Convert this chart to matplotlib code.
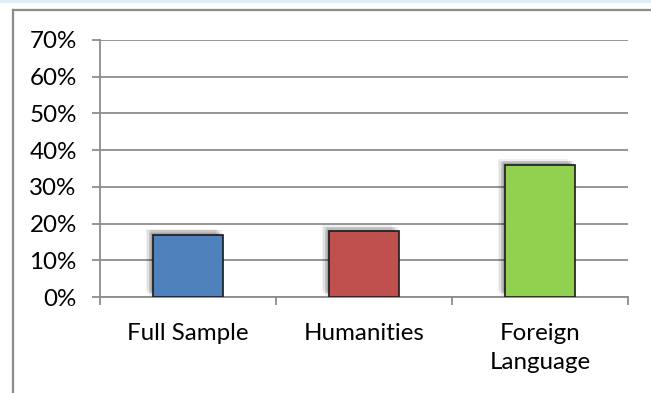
import matplotlib
matplotlib.use("Agg")
import matplotlib.pyplot as plt
import matplotlib.patheffects as pe
from matplotlib.lines import Line2D
from matplotlib.patches import Rectangle

categories = ["Full Sample", "Humanities", "Foreign\nLanguage"]
values = [0.17, 0.18, 0.36]
colors = ["#4F81BD", "#C0504D", "#92D050"]
yticks = [0, 0.1, 0.2, 0.3, 0.4, 0.5, 0.6, 0.7]

plt.rcParams["font.family"] = ["Lato", "DejaVu Sans"]

W, H = 651, 393
fig = plt.figure(figsize=(W / 100, H / 100), dpi=100)
ax = fig.add_axes([100 / W, (H - 297) / H, 528 / W, 257 / H])

grey = "#8C8C8C"

# blurred drop shadow approximated by stacked translucent offsets
shadow = []
for dx, dy in [(-5, 4), (-4, 3), (-3, 3), (-2, 2), (-1, 1), (-3, 1), (-1, 3)]:
    shadow.append(pe.SimplePatchShadow(offset=(dx, dy), shadow_rgbFace="black", alpha=0.06))
shadow.append(pe.Normal())

x = range(len(categories))
bars = ax.bar(x, values, width=0.4, color=colors, edgecolor="#1a1a1a", linewidth=1.2, zorder=3)
for b in bars:
    b.set_path_effects(shadow)

ax.set_xlim(-0.5, len(categories) - 0.5)
ax.set_ylim(0, 0.7)
ax.set_yticks(yticks)
ax.set_yticklabels([f"{int(round(t * 100))}%" for t in yticks])
ax.yaxis.grid(True, color=grey, linewidth=1.3, zorder=0)
ax.set_axisbelow(True)

ax.set_xticks([i - 0.5 for i in range(len(categories) + 1)])
ax.set_xticklabels([])
ax.set_xticks(list(x), minor=True)
ax.set_xticklabels(categories, minor=True, fontsize=17.4, linespacing=1.45)
ax.tick_params(axis="x", which="minor", length=0, pad=19)
ax.tick_params(axis="x", which="major", length=5.8, width=1.3, color=grey, direction="out")
ax.tick_params(axis="y", length=5.8, width=1.3, color=grey, labelsize=17.4, pad=11)

for s in ["top", "right"]:
    ax.spines[s].set_visible(False)
for s in ["left", "bottom"]:
    ax.spines[s].set_color(grey)
    ax.spines[s].set_linewidth(1.3)

# outer chart frame
fig.add_artist(Rectangle((0, 1 - 3 / H), 1, 3 / H, transform=fig.transFigure,
                         color="#DDEEF6", lw=0))
fig.add_artist(Line2D([13 / W, 1], [1 - 10 / H, 1 - 10 / H], transform=fig.transFigure,
                      color=grey, lw=1.6))
fig.add_artist(Line2D([13 / W, 13 / W], [0, 1 - 10 / H], transform=fig.transFigure,
                      color=grey, lw=1.6))

fig.savefig("out.png", dpi=100)
